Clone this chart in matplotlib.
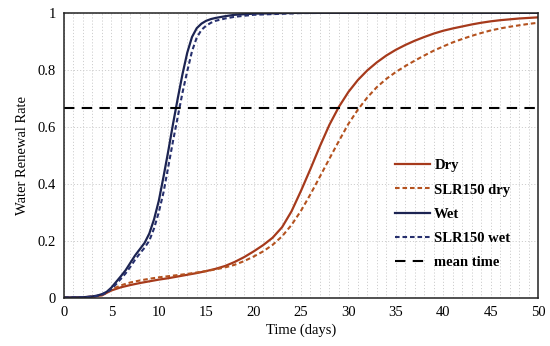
"""
Water renewal rate curves for dry / wet seasons, with SLR150 scenarios.
Output: out.png
"""

import matplotlib
matplotlib.use("Agg")
import matplotlib.pyplot as plt
from matplotlib.ticker import MultipleLocator

OUT_PNG = "out.png"

# ── 1. Data ──────────────────────────────────────────────────────────────────
days_wet = [0, 1, 2, 3, 3.5, 4, 4.5, 5, 5.5, 6, 6.5, 7, 7.5, 8, 8.5, 9, 9.5, 10,
            10.5, 11, 11.5, 12, 12.5, 13, 13.5, 14, 14.5, 15, 15.5, 16, 17, 18,
            20, 25, 30, 35, 40, 45, 50]
wet = [0, 0.0005, 0.001, 0.004, 0.007, 0.012, 0.02, 0.035, 0.055, 0.075, 0.096,
       0.122, 0.148, 0.17, 0.192, 0.225, 0.275, 0.34, 0.425, 0.515, 0.61, 0.7,
       0.785, 0.86, 0.915, 0.946, 0.962, 0.972, 0.978, 0.982, 0.988, 0.993,
       0.997, 1, 1, 1, 1, 1, 1]
slr_wet = [0, 0.0005, 0.001, 0.003, 0.006, 0.01, 0.017, 0.03, 0.047, 0.066,
           0.085, 0.108, 0.133, 0.155, 0.175, 0.2, 0.243, 0.3, 0.37, 0.46,
           0.55, 0.635, 0.72, 0.795, 0.865, 0.913, 0.94, 0.955, 0.965, 0.972,
           0.98, 0.986, 0.993, 0.999, 1, 1, 1, 1, 1]

days_dry = list(range(0, 51))
dry = [0, 0, 0.001, 0.003, 0.008, 0.025, 0.036, 0.044, 0.051, 0.057, 0.063,
       0.068, 0.074, 0.08, 0.086, 0.093, 0.101, 0.111, 0.125, 0.142, 0.162,
       0.184, 0.21, 0.247, 0.303, 0.375, 0.452, 0.532, 0.607, 0.67, 0.722,
       0.764, 0.798, 0.826, 0.85, 0.87, 0.887, 0.902, 0.915, 0.927, 0.937,
       0.945, 0.952, 0.959, 0.965, 0.97, 0.974, 0.977, 0.98, 0.982, 0.984]
slr_dry = [0, 0, 0.001, 0.003, 0.008, 0.028, 0.043, 0.053, 0.06, 0.066, 0.071,
           0.075, 0.079, 0.083, 0.088, 0.093, 0.099, 0.106, 0.115, 0.128, 0.144,
           0.162, 0.185, 0.215, 0.255, 0.305, 0.363, 0.425, 0.488, 0.55, 0.61,
           0.66, 0.703, 0.739, 0.768, 0.792, 0.813, 0.832, 0.85, 0.867, 0.882,
           0.896, 0.908, 0.919, 0.929, 0.938, 0.945, 0.951, 0.956, 0.961, 0.965]

mean_time = 0.665

x_ticks = list(range(0, 51, 5))
y_ticks = [0, 0.2, 0.4, 0.6, 0.8, 1]
y_tick_labels = ["0", "0.2", "0.4", "0.6", "0.8", "1"]

# ── 2. Plot ──────────────────────────────────────────────────────────────────
plt.rcParams["font.family"] = ["Liberation Serif", "DejaVu Serif"]

fig = plt.figure(figsize=(5.5, 3.46), dpi=100)
ax = fig.add_axes([0.1164, 0.140, 0.8618, 0.823])

ax.plot(days_dry, dry, color="#a63a1c", lw=1.6, label="Dry")
ax.plot(days_dry, slr_dry, color="#b4521f", lw=1.5, ls=(0, (2.2, 1.4)),
        label="SLR150 dry")
ax.plot(days_wet, wet, color="#1c2452", lw=1.6, label="Wet")
ax.plot(days_wet, slr_wet, color="#27306e", lw=1.5, ls=(0, (2.2, 1.4)),
        label="SLR150 wet")
ax.axhline(mean_time, color="black", lw=1.5, ls=(0, (5, 3.5)), label="mean time")

ax.set_xlim(0, 50)
ax.set_ylim(0, 1)
ax.set_xticks(x_ticks)
ax.set_yticks(y_ticks)
ax.set_yticklabels(y_tick_labels)
ax.xaxis.set_minor_locator(MultipleLocator(1))
ax.tick_params(which="both", length=0, labelsize=10.5, pad=6)

ax.grid(which="both", axis="x", color="#cfcfcf", lw=0.7, ls=(0, (1.2, 2)))
ax.grid(which="major", axis="y", color="#cfcfcf", lw=0.7, ls=(0, (1.2, 2)))
ax.set_axisbelow(True)

for s in ax.spines.values():
    s.set_color("#222222")
    s.set_linewidth(1.1)

ax.set_xlabel("Time (days)", fontsize=10.5, labelpad=3)
ax.set_ylabel("Water Renewal Rate", fontsize=10.5, labelpad=6)

ax.legend(loc="center left", bbox_to_anchor=(0.698, 0.293), frameon=False,
          prop={"weight": "bold", "size": 10.5}, borderpad=0, borderaxespad=0,
          handlelength=2.4, handletextpad=0.3, labelspacing=0.75)

plt.savefig(OUT_PNG, dpi=100)
